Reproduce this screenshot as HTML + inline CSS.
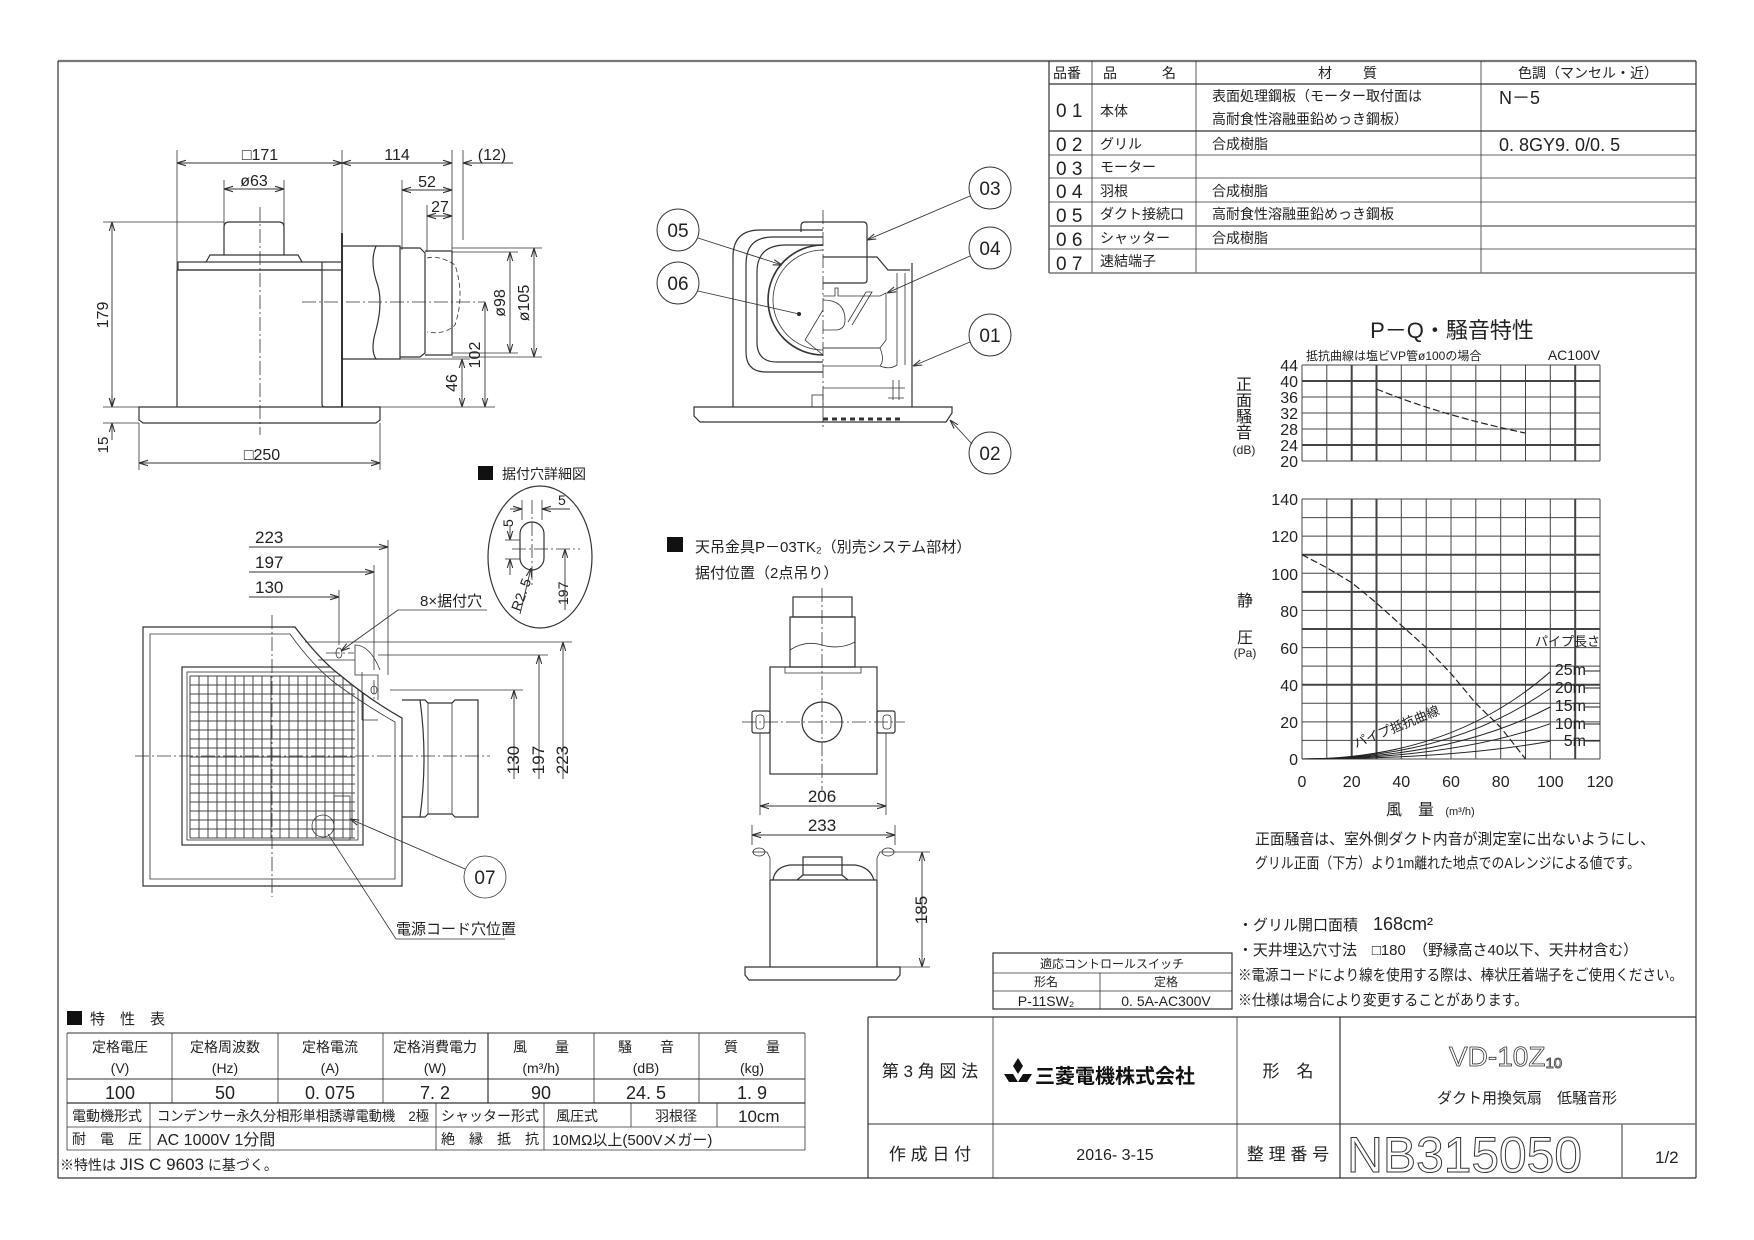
<!DOCTYPE html>
<html><head><meta charset="utf-8"><style>
html,body{margin:0;padding:0;background:#fff}
svg{display:block}
text{font-family:"Liberation Sans","Noto Sans CJK JP",sans-serif;fill:#222}
.l{stroke:#333;stroke-width:1.2;fill:none}
.t{stroke:#333;stroke-width:0.8;fill:none}
.g{stroke:#777;stroke-width:2.2;fill:none}
.c{stroke:#333;stroke-width:0.8;fill:none;stroke-dasharray:14 3 2 3}
.d{stroke:#333;stroke-width:0.9;fill:none;marker-start:url(#a);marker-end:url(#a)}
.d1{stroke:#333;stroke-width:0.9;fill:none;marker-end:url(#a)}
.grid{stroke:#444;stroke-width:1;fill:none}
.gb{stroke:#444;stroke-width:2;fill:none}
</style></head><body>
<svg width="1754" height="1240" viewBox="0 0 1754 1240" xmlns="http://www.w3.org/2000/svg">
<defs>
<marker id="a" viewBox="0 0 10 10" refX="10" refY="5" markerWidth="9" markerHeight="9" markerUnits="userSpaceOnUse" orient="auto-start-reverse"><path d="M0,2 L10,5 L0,8" fill="none" stroke="#333" stroke-width="1.2"/></marker>
</defs>
<line x1="58" y1="61" x2="1696" y2="61" class="g"/>
<line x1="58" y1="61" x2="58" y2="1178" class="l"/>
<line x1="1696" y1="61" x2="1696" y2="1178" class="l"/>
<line x1="58" y1="1178" x2="1696" y2="1178" class="l"/>

<g>
<line x1="1049" y1="61" x2="1049" y2="273" class="l"/>
<line x1="1092" y1="61" x2="1092" y2="273" class="t"/>
<line x1="1196" y1="61" x2="1196" y2="273" class="t"/>
<line x1="1481" y1="61" x2="1481" y2="273" class="t"/>
<line x1="1049" y1="84" x2="1696" y2="84" class="l"/>
<line x1="1049" y1="131" x2="1696" y2="131" class="l"/>
<line x1="1049" y1="155" x2="1696" y2="155" class="t"/>
<line x1="1049" y1="178" x2="1696" y2="178" class="t"/>
<line x1="1049" y1="202" x2="1696" y2="202" class="t"/>
<line x1="1049" y1="226" x2="1696" y2="226" class="g" style="stroke-width:1.5"/>
<line x1="1049" y1="249" x2="1696" y2="249" class="t"/>
<line x1="1049" y1="273" x2="1696" y2="273" class="g" style="stroke-width:1.5"/>
<g font-size="14">
<text x="1053" y="78">品番</text><text x="1103" y="78">品</text><text x="1162" y="78">名</text>
<text x="1318" y="78">材</text><text x="1363" y="78">質</text>
<text x="1518" y="78">色調（マンセル・近）</text>
<text x="1056" y="117" font-size="19">0 1</text><text x="1100" y="116">本体</text>
<text x="1212" y="101">表面処理鋼板（モーター取付面は</text><text x="1212" y="124">高耐食性溶融亜鉛めっき鋼板）</text>
<text x="1499" y="104" font-size="18">N－5</text>
<text x="1056" y="151" font-size="19">0 2</text><text x="1100" y="149">グリル</text><text x="1212" y="149">合成樹脂</text>
<text x="1499" y="151" font-size="18">0. 8GY9. 0/0. 5</text>
<text x="1056" y="175" font-size="19">0 3</text><text x="1100" y="172">モーター</text>
<text x="1056" y="198" font-size="19">0 4</text><text x="1100" y="196">羽根</text><text x="1212" y="196">合成樹脂</text>
<text x="1056" y="222" font-size="19">0 5</text><text x="1100" y="219">ダクト接続口</text><text x="1212" y="219">高耐食性溶融亜鉛めっき鋼板</text>
<text x="1056" y="246" font-size="19">0 6</text><text x="1100" y="243">シャッター</text><text x="1212" y="243">合成樹脂</text>
<text x="1056" y="270" font-size="19">0 7</text><text x="1100" y="266">速結端子</text>
</g></g>

<g>
<line x1="177" y1="150" x2="177" y2="407" class="t"/>
<line x1="342" y1="150" x2="342" y2="233" class="t"/>
<line x1="177" y1="163" x2="342" y2="163" class="d"/>
<line x1="342" y1="163" x2="452" y2="163" class="d"/>
<line x1="452" y1="150" x2="452" y2="250" class="t"/>
<line x1="463" y1="150" x2="463" y2="240" class="t"/>
<line x1="513" y1="163" x2="463" y2="163" class="d1"/>
<text x="260" y="160" font-size="16" text-anchor="middle">□171</text>
<text x="397" y="160" font-size="16" text-anchor="middle">114</text>
<text x="492" y="160" font-size="16" text-anchor="middle">(12)</text>
<line x1="224" y1="180" x2="224" y2="255" class="t"/>
<line x1="284" y1="180" x2="284" y2="255" class="t"/>
<line x1="224" y1="189" x2="284" y2="189" class="d"/>
<text x="254" y="186" font-size="16" text-anchor="middle">ø63</text>
<line x1="402" y1="180" x2="402" y2="250" class="t"/>
<line x1="427" y1="205" x2="427" y2="252" class="t"/>
<line x1="402" y1="190" x2="452" y2="190" class="d"/>
<line x1="427" y1="216" x2="452" y2="216" class="d"/>
<text x="427" y="187" font-size="16" text-anchor="middle">52</text>
<text x="440" y="212" font-size="16" text-anchor="middle">27</text>
<path d="M224,255 V227 Q224,222 229,222 H279 Q284,222 284,227 V255" class="l"/>
<path d="M206,262 L210,255 H298 L302,262" class="l"/>
<rect x="178" y="262" width="164" height="8" class="l"/>
<path d="M177,270 V407 M322,270 H177 M322,262 V404 Q322,407 325,407 H342" class="l"/>
<line x1="342" y1="233" x2="342" y2="407" class="l" style="stroke-width:2"/>
<path d="M342,246 H376 Q370,260 376,280 Q384,300 376,330 Q370,350 376,359 H342" class="l"/>
<path d="M376,246 H400 V359 H376" class="l"/>
<path d="M400,248 H420 L425,253 V353 L420,357 H400" class="l"/>
<path d="M425,251 H452 V355 H425" class="l"/>
<path d="M427,258 Q440,255 455,265 Q465,295 455,325 Q445,335 427,332" class="t" stroke-dasharray="5 3"/>
<line x1="452" y1="248" x2="542" y2="248" class="t"/>
<line x1="452" y1="357" x2="542" y2="357" class="t"/>
<line x1="452" y1="252" x2="518" y2="252" class="t"/>
<line x1="452" y1="353" x2="518" y2="353" class="t"/>
<line x1="510" y1="252" x2="510" y2="353" class="d"/>
<line x1="534" y1="248" x2="534" y2="357" class="d"/>
<text transform="translate(505,303) rotate(-90)" font-size="16" text-anchor="middle">ø98</text>
<text transform="translate(529,303) rotate(-90)" font-size="16" text-anchor="middle">ø105</text>
<line x1="302" y1="302" x2="485" y2="302" class="c"/>
<line x1="260" y1="207" x2="260" y2="435" class="c"/>
<line x1="400" y1="359" x2="470" y2="359" class="t"/>
<line x1="342" y1="407" x2="495" y2="407" class="t"/>
<line x1="485" y1="302" x2="485" y2="407" class="d"/>
<line x1="462" y1="359" x2="462" y2="407" class="d"/>
<text transform="translate(480,355) rotate(-90)" font-size="16" text-anchor="middle">102</text>
<text transform="translate(457,383) rotate(-90)" font-size="16" text-anchor="middle">46</text>
<line x1="103" y1="222" x2="224" y2="222" class="t"/>
<line x1="112" y1="222" x2="112" y2="407" class="d"/>
<text transform="translate(108,315) rotate(-90)" font-size="16" text-anchor="middle">179</text>
<path d="M139,407 H380 V420 L376,423 H143 L139,420 Z" class="l"/>
<line x1="103" y1="423" x2="139" y2="423" class="t"/>
<line x1="103" y1="407" x2="139" y2="407" class="t"/>
<line x1="112" y1="395" x2="112" y2="407" class="d1"/>
<line x1="112" y1="440" x2="112" y2="423" class="d1"/>
<text transform="translate(108,445) rotate(-90)" font-size="15" text-anchor="middle">15</text>
<line x1="139" y1="423" x2="139" y2="470" class="t"/>
<line x1="380" y1="423" x2="380" y2="470" class="t"/>
<line x1="139" y1="463" x2="380" y2="463" class="d"/>
<text x="262" y="460" font-size="16" text-anchor="middle">□250</text>
</g>

<g>
<path d="M694,407 H952 V413 L946,422 H700 L694,416 Z" class="l"/>
<path d="M823,230 H760 Q733,230 733,257 V407" class="l"/>
<path d="M823,237 H773 Q746,237 746,264 V352 Q746,372 766,372 H823" class="l"/>
<path d="M823,245 H786 Q757,245 757,272 V342 Q757,362 777,362 H823" class="l"/>
<path d="M823,245 A55,55 0 0 0 823,355" class="l" style="stroke-width:1.6"/>
<path d="M823,250 A50,50 0 0 0 823,350" class="t"/>
<path d="M823,355 L805,340 L823,310" class="t"/>
<circle cx="799" cy="314" r="2" fill="#222"/>
<path d="M801,232 V226 Q801,222 805,222 H863 Q867,222 867,226 V280 Q867,283 864,283 H823" class="l"/>
<path d="M823,257 H877 L888,270 H910" class="l"/>
<line x1="912" y1="263" x2="912" y2="407" class="l"/>
<line x1="905" y1="273" x2="905" y2="365" class="t"/>
<path d="M823,296 H835 V288 H838 V296 H880 L886,293 V340 L880,348 H823" class="t"/>
<path d="M848,322 L866,292 L872,292 L852,325" class="t"/>
<path d="M823,300 Q845,300 845,320 Q845,330 835,330 H823" class="t"/>
<path d="M823,348 H880 Q885,360 880,366 H823" class="t"/>
<path d="M880,366 Q890,370 897,365 V273" class="t"/>
<line x1="823" y1="388" x2="905" y2="388" class="t"/>
<rect x="812" y="395" width="11" height="12" class="t"/>
<path d="M893,380 V400 M899,380 V400 M888,398 H904" class="t"/>
<line x1="823" y1="419" x2="900" y2="419" class="l" stroke-dasharray="5 4" style="stroke-width:3"/>
<line x1="823" y1="210" x2="823" y2="428" class="c"/>
<g fill="none" stroke="#333" stroke-width="1">
<circle cx="990" cy="188" r="21"/><circle cx="990" cy="248" r="21"/><circle cx="990" cy="335" r="21"/><circle cx="990" cy="453" r="21"/>
<circle cx="678" cy="230" r="21"/><circle cx="678" cy="283" r="21"/>
</g>
<g font-size="19" text-anchor="middle"><text x="990" y="195">03</text><text x="990" y="255">04</text><text x="990" y="342">01</text><text x="990" y="460">02</text><text x="678" y="237">05</text><text x="678" y="290">06</text></g>
<line x1="970" y1="196" x2="867" y2="240" class="d1"/>
<line x1="970" y1="256" x2="887" y2="293" class="d1"/>
<line x1="970" y1="342" x2="913" y2="366" class="d1"/>
<line x1="972" y1="444" x2="950" y2="420" class="d1"/>
<line x1="698" y1="238" x2="782" y2="265" class="d1"/>
<line x1="698" y1="291" x2="799" y2="314" class="t"/>
</g>

<g>
<path d="M143,627 H295 Q320,660 340,675 Q370,700 402,718 V886 H143 Z" class="l"/>
<path d="M150,634 H290 Q312,665 335,683 Q365,705 395,722 V879 H150 Z" class="t"/>
<rect x="182" y="667" width="181" height="178" class="l"/>
<rect x="187" y="672" width="171" height="168" class="t"/>
<g stroke="#444" stroke-width="1">
<path d="M190,676 H355 M190,685 H355 M190,694 H355 M190,703 H355 M190,712 H355 M190,721 H355 M190,730 H355 M190,739 H355 M190,748 H355 M190,757 H355 M190,766 H355 M190,775 H355 M190,784 H355 M190,793 H355 M190,802 H355 M190,811 H355 M190,820 H355 M190,829 H355 M190,838 H355"/>
<path d="M190,676 V838 M199,676 V838 M208,676 V838 M217,676 V838 M226,676 V838 M235,676 V838 M244,676 V838 M253,676 V838 M262,676 V838 M271,676 V838 M280,676 V838 M289,676 V838 M298,676 V838 M307,676 V838 M316,676 V838 M325,676 V838 M334,676 V838 M343,676 V838 M352,676 V838"/>
</g>
<path d="M295,627 Q320,660 340,675 Q370,700 402,718 V627 Z" fill="#fff"/>
<path d="M295,627 Q320,660 340,675 Q370,700 402,718" class="l"/>
<path d="M318,660 H355 V675 H378 V700 M355,660 V645 Q370,645 380,670" class="t"/>
<path d="M362,672 V720 M362,720 H378" class="t"/>
<ellipse cx="339" cy="653" rx="3" ry="5" class="t"/>
<ellipse cx="374" cy="690" rx="3" ry="4" class="t"/>
<path d="M402,700 H420 Q428,758 420,817 H402" class="l"/>
<path d="M420,700 H425 L428,703 H452 L455,700 H478 V817 H455 L452,814 H428 L425,817 H420" class="l"/>
<line x1="428" y1="703" x2="428" y2="814" class="t"/><line x1="452" y1="703" x2="452" y2="814" class="t"/>
<circle cx="323" cy="826" r="11" class="t"/>
<rect x="334" y="796" width="16" height="44" class="t"/>
<line x1="272" y1="615" x2="272" y2="897" class="c"/>
<line x1="135" y1="756" x2="490" y2="756" class="c"/>
<line x1="326" y1="653" x2="354" y2="653" class="c"/>
<line x1="374" y1="680" x2="374" y2="700" class="c"/>
<line x1="249" y1="547" x2="388" y2="547" class="d1"/>
<line x1="249" y1="572" x2="374" y2="572" class="d1"/>
<line x1="249" y1="597" x2="339" y2="597" class="d1"/>
<line x1="388" y1="540" x2="388" y2="675" class="t"/>
<line x1="374" y1="565" x2="374" y2="670" class="t"/>
<line x1="339" y1="590" x2="339" y2="645" class="t"/>
<g font-size="17"><text x="255" y="543">223</text><text x="255" y="568">197</text><text x="255" y="593">130</text></g>
<line x1="305" y1="642" x2="572" y2="642" class="t"/>
<line x1="378" y1="655" x2="548" y2="655" class="t"/>
<line x1="390" y1="690" x2="523" y2="690" class="t"/>
<line x1="563" y1="779" x2="563" y2="642" class="d1"/>
<line x1="539" y1="779" x2="539" y2="655" class="d1"/>
<line x1="514" y1="779" x2="514" y2="690" class="d1"/>
<g font-size="17"><text transform="translate(519,760) rotate(-90)" text-anchor="middle">130</text><text transform="translate(544,760) rotate(-90)" text-anchor="middle">197</text><text transform="translate(568,760) rotate(-90)" text-anchor="middle">223</text></g>
<text x="420" y="606" font-size="15">8×据付穴</text>
<line x1="398" y1="610" x2="487" y2="610" class="t"/>
<line x1="398" y1="610" x2="341" y2="651" class="d1"/>
<circle cx="485" cy="877" r="21" class="t"/>
<text x="485" y="884" font-size="19" text-anchor="middle">07</text>
<line x1="465" y1="869" x2="350" y2="819" class="d1"/>
<text x="396" y="934" font-size="15">電源コード穴位置</text>
<line x1="396" y1="939" x2="505" y2="939" class="t"/>
<line x1="396" y1="939" x2="328" y2="834" class="t"/>
<rect x="478" y="466" width="15" height="14" fill="#111"/>
<text x="502" y="479" font-size="14">据付穴詳細図</text>
<ellipse cx="540" cy="557" rx="52" ry="71" class="l"/>
<rect x="520" y="522" width="24" height="48" rx="12" class="l"/>
<line x1="512" y1="549" x2="580" y2="549" class="c"/>
<line x1="532" y1="500" x2="532" y2="585" class="c"/>
<line x1="522" y1="500" x2="522" y2="520" class="t"/><line x1="542" y1="500" x2="542" y2="520" class="t"/>
<line x1="510" y1="509" x2="522" y2="509" class="d1"/><line x1="570" y1="509" x2="542" y2="509" class="d1"/>
<text x="558" y="505" font-size="14">5</text>
<line x1="505" y1="540" x2="520" y2="540" class="t"/><line x1="505" y1="559" x2="520" y2="559" class="t"/>
<line x1="510" y1="525" x2="510" y2="540" class="d1"/><line x1="510" y1="575" x2="510" y2="559" class="d1"/>
<text transform="translate(513,527) rotate(-90)" font-size="14">5</text>
<line x1="565" y1="610" x2="565" y2="549" class="d1"/>
<text transform="translate(568,605) rotate(-90)" font-size="14">197</text>
<line x1="520" y1="614" x2="531" y2="568" class="d1"/>
<text transform="translate(520,612) rotate(-70)" font-size="14">R2. 5</text>
</g>

<g>
<rect x="667" y="537" width="16" height="15" fill="#111"/>
<text x="695" y="552" font-size="15">天吊金具P－03TK₂（別売システム部材）</text>
<text x="695" y="578" font-size="15">据付位置（2点吊り）</text>
<line x1="822" y1="588" x2="822" y2="790" class="c"/>
<line x1="742" y1="722" x2="905" y2="722" class="c"/>
<rect x="793" y="597" width="59" height="20" class="l"/>
<path d="M790,617 H855 V667 H790 Z" class="l"/>
<path d="M790,650 Q805,640 822,645 Q840,650 855,642" class="t"/>
<rect x="770" y="667" width="107" height="107" class="l"/>
<path d="M785,667 V673 H861 V667" class="t"/>
<circle cx="822" cy="722" r="20" class="l"/>
<rect x="752" y="711" width="18" height="22" rx="2" class="l"/><rect x="756" y="715" width="8" height="14" rx="3" class="t"/>
<rect x="877" y="711" width="18" height="22" rx="2" class="l"/><rect x="883" y="715" width="8" height="14" rx="3" class="t"/>
<line x1="760" y1="733" x2="760" y2="815" class="t"/><line x1="886" y1="733" x2="886" y2="815" class="t"/>
<line x1="760" y1="806" x2="886" y2="806" class="d"/>
<text x="822" y="802" font-size="17" text-anchor="middle">206</text>
<line x1="752" y1="825" x2="752" y2="845" class="t"/><line x1="895" y1="825" x2="895" y2="845" class="t"/>
<line x1="752" y1="835" x2="895" y2="835" class="d"/>
<text x="822" y="831" font-size="17" text-anchor="middle">233</text>
<path d="M770,880 V967 M877,880 V967 M770,880 H877 M773,880 Q775,867 790,865 H855 Q870,867 874,880" class="l"/>
<path d="M797,880 L803,875 H842 L848,880 M803,875 V857 H842 V875" class="l"/>
<path d="M752,852 H767 L770,858 V880 M895,852 H880 L877,858 V880" class="t"/>
<ellipse cx="759" cy="852" rx="6" ry="4" class="t"/><ellipse cx="888" cy="852" rx="6" ry="4" class="t"/>
<path d="M745,967 H900 V975 L896,980 H749 L745,975 Z" class="l"/>
<line x1="895" y1="852" x2="930" y2="852" class="t"/><line x1="900" y1="967" x2="930" y2="967" class="t"/>
<line x1="922" y1="852" x2="922" y2="967" class="d"/>
<text transform="translate(927,910) rotate(-90)" font-size="17" text-anchor="middle">185</text>
</g>

<g>
<text x="1452" y="338" font-size="22" text-anchor="middle">P－Q・騒音特性</text>
<text x="1306" y="360" font-size="12">抵抗曲線は塩ビVP管ø100の場合</text>
<text x="1600" y="360" font-size="14" text-anchor="end">AC100V</text>
<g class="grid">
<path d="M1302,365 H1600 M1302,381 H1600 M1302,397 H1600 M1302,413 H1600 M1302,429 H1600 M1302,445 H1600 M1302,461 H1600"/>
<path d="M1302,365 V461 M1326.8,365 V461 M1351.7,365 V461 M1376.5,365 V461 M1401.3,365 V461 M1426.2,365 V461 M1451,365 V461 M1475.8,365 V461 M1500.7,365 V461 M1525.5,365 V461 M1550.3,365 V461 M1575.2,365 V461 M1600,365 V461"/>
<path d="M1302,499 V759 M1326.8,499 V759 M1351.7,499 V759 M1376.5,499 V759 M1401.3,499 V759 M1426.2,499 V759 M1451,499 V759 M1475.8,499 V759 M1500.7,499 V759 M1525.5,499 V759 M1550.3,499 V759 M1575.2,499 V759 M1600,499 V759"/>
<path d="M1302,499 H1600 M1302,517.6 H1600 M1302,536.1 H1600 M1302,554.7 H1600 M1302,573.3 H1600 M1302,591.9 H1600 M1302,610.4 H1600 M1302,629 H1600 M1302,647.6 H1600 M1302,666.1 H1600 M1302,684.7 H1600 M1302,703.3 H1600 M1302,721.9 H1600 M1302,740.4 H1600 M1302,759 H1600"/>
</g>
<g class="gb">
<path d="M1351.7,365 V461 M1376.5,365 V461 M1575.2,365 V461 M1302,381 H1600 M1302,445 H1600"/>
<path d="M1351.7,499 V759 M1376.5,499 V759 M1575.2,499 V759 M1302,554.7 H1600 M1302,591.9 H1600 M1302,629 H1600 M1302,684.7 H1600"/>
</g>
<path d="M1376.5,389 Q1440,415 1525,433" stroke="#222" stroke-width="1.2" fill="none" stroke-dasharray="7 3"/>
<path d="M1302,554.7 L1326.8,567.7 L1351.7,582.6 L1376.5,603 L1401.3,625.3 L1426.2,647.6 L1451,673.6 L1475.8,703.3 L1500.7,727.4 L1525.5,759" stroke="#222" stroke-width="1.2" fill="none" stroke-dasharray="7 3"/>
<g stroke="#222" stroke-width="1" fill="none">
<path d="M1302,759 Q1451,759 1550.3,671.7"/>
<path d="M1302,759 Q1451,759 1550.3,688.4"/>
<path d="M1302,759 Q1451,759 1550.3,707"/>
<path d="M1302,759 Q1451,759 1550.3,723.7"/>
<path d="M1302,759 Q1451,759 1550.3,741.3"/>
<path d="M1585,671 H1600 M1585,688 H1600 M1585,707 H1600 M1585,724 H1600 M1585,741 H1600"/>
</g>
<g font-size="16" text-anchor="end">
<text x="1586" y="675">25m</text><text x="1586" y="693">20m</text><text x="1586" y="711">15m</text><text x="1586" y="729">10m</text><text x="1586" y="746">5m</text>
</g>
<text x="1600" y="646" font-size="13" text-anchor="end">パイプ長さ</text>
<text transform="translate(1356,748) rotate(-22)" font-size="13">パイプ抵抗曲線</text>
<g font-size="16" text-anchor="end">
<text x="1298" y="371">44</text><text x="1298" y="387">40</text><text x="1298" y="403">36</text><text x="1298" y="419">32</text><text x="1298" y="435">28</text><text x="1298" y="451">24</text><text x="1298" y="467">20</text>
<text x="1298" y="505">140</text><text x="1298" y="542">120</text><text x="1298" y="580">100</text><text x="1298" y="617">80</text><text x="1298" y="654">60</text><text x="1298" y="691">40</text><text x="1298" y="728">20</text><text x="1298" y="765">0</text>
</g>
<g font-size="16" text-anchor="middle">
<text x="1302" y="787">0</text><text x="1351.7" y="787">20</text><text x="1401.3" y="787">40</text><text x="1451" y="787">60</text><text x="1500.7" y="787">80</text><text x="1550.3" y="787">100</text><text x="1600" y="787">120</text>
</g>
<g font-size="16" text-anchor="middle"><text x="1244" y="390">正</text><text x="1244" y="406">面</text><text x="1244" y="422">騒</text><text x="1244" y="438">音</text></g>
<text x="1244" y="454" font-size="12" text-anchor="middle">(dB)</text>
<text x="1245" y="606" font-size="16" text-anchor="middle">静</text>
<text x="1245" y="643" font-size="16" text-anchor="middle">圧</text>
<text x="1245" y="657" font-size="12" text-anchor="middle">(Pa)</text>
<text x="1410" y="815" font-size="16" text-anchor="middle">風　量</text>
<text x="1460" y="815" font-size="11" text-anchor="middle">(m³/h)</text>
</g>

<g font-size="15">
<text x="1255" y="844" textLength="400" lengthAdjust="spacingAndGlyphs">正面騒音は、室外側ダクト内音が測定室に出ないようにし、</text>
<text x="1255" y="868" textLength="385" lengthAdjust="spacingAndGlyphs">グリル正面（下方）より1m離れた地点でのAレンジによる値です。</text>
<text x="1238" y="930">・グリル開口面積　<tspan font-size="18">168cm²</tspan></text>
<text x="1238" y="955" textLength="400" lengthAdjust="spacingAndGlyphs">・天井埋込穴寸法　□180　（野縁高さ40以下、天井材含む）</text>
<text x="1238" y="980" textLength="445" lengthAdjust="spacingAndGlyphs">※電源コードにより線を使用する際は、棒状圧着端子をご使用ください。</text>
<text x="1238" y="1005" textLength="290" lengthAdjust="spacingAndGlyphs">※仕様は場合により変更することがあります。</text>
</g>
<g>
<rect x="993" y="953" width="239" height="56" class="l"/>
<line x1="993" y1="973" x2="1232" y2="973" class="t"/>
<line x1="993" y1="991" x2="1232" y2="991" class="t"/>
<line x1="1100" y1="973" x2="1100" y2="1009" class="t"/>
<text x="1112" y="968" font-size="12" text-anchor="middle">適応コントロールスイッチ</text>
<text x="1046" y="986" font-size="12" text-anchor="middle">形名</text>
<text x="1166" y="986" font-size="12" text-anchor="middle">定格</text>
<text x="1046" y="1006" font-size="14" text-anchor="middle">P-11SW₂</text>
<text x="1166" y="1006" font-size="14" text-anchor="middle">0. 5A-AC300V</text>
</g>
<g>
<line x1="868" y1="1017" x2="1696" y2="1017" class="l"/>
<line x1="868" y1="1124" x2="1696" y2="1124" class="g" style="stroke-width:1.5"/>
<line x1="868" y1="1017" x2="868" y2="1178" class="l"/>
<line x1="993" y1="1017" x2="993" y2="1178" class="t"/>
<line x1="1237" y1="1017" x2="1237" y2="1178" class="t"/>
<line x1="1340" y1="1017" x2="1340" y2="1178" class="l"/>
<line x1="1622" y1="1124" x2="1622" y2="1178" class="g" style="stroke-width:1.5"/>
<text x="930" y="1077" font-size="17" text-anchor="middle">第 3 角 図 法</text>
<g fill="#111"><path d="M1018,1058 L1023,1066 L1018,1074 L1013,1066 Z"/><path d="M1013,1074 L1018,1082 L1009,1082 L1004,1074 Z"/><path d="M1023,1074 L1032,1074 L1027,1082 L1018,1082 Z"/></g>
<text x="1035" y="1083" font-size="20" font-weight="bold" style="fill:#111">三菱電機株式会社</text>
<text x="1288" y="1077" font-size="17" text-anchor="middle">形　名</text>
<text x="1449" y="1066" font-size="28" style="fill:#fff;stroke:#333;stroke-width:0.8">VD-10Z<tspan font-size="15" dy="2">10</tspan></text>
<text x="1437" y="1103" font-size="15">ダクト用換気扇　低騒音形</text>
<text x="930" y="1160" font-size="17" text-anchor="middle">作 成 日 付</text>
<text x="1115" y="1160" font-size="16" text-anchor="middle">2016-  3-15</text>
<text x="1288" y="1160" font-size="17" text-anchor="middle">整 理 番 号</text>
<text x="1347" y="1172" font-size="50" style="fill:#fff;stroke:#333;stroke-width:1" textLength="235" lengthAdjust="spacingAndGlyphs">NB315050</text>
<text x="1655" y="1163" font-size="17">1/2</text>
</g>

<g>
<rect x="67" y="1011" width="15" height="14" fill="#111"/>
<text x="90" y="1024" font-size="15">特　性　表</text>
<line x1="67" y1="1033" x2="805" y2="1033" class="g" style="stroke-width:1.5"/>
<line x1="67" y1="1079" x2="805" y2="1079" class="g" style="stroke-width:1.5"/>
<line x1="67" y1="1103" x2="805" y2="1103" class="l"/>
<line x1="67" y1="1127" x2="805" y2="1127" class="t"/>
<line x1="67" y1="1150" x2="805" y2="1150" class="t"/>
<line x1="67" y1="1033" x2="67" y2="1150" class="t"/>
<line x1="805" y1="1033" x2="805" y2="1150" class="t"/>
<path d="M172,1033 V1103 M278,1033 V1103 M383,1033 V1103 M594,1033 V1103 M699,1033 V1103" class="t"/>
<line x1="488" y1="1033" x2="488" y2="1103" class="l"/>
<path d="M150,1103 V1150 M436,1103 V1150 M544,1103 V1150 M631,1103 V1127 M717,1103 V1127" class="t"/>
<g font-size="14" text-anchor="middle">
<text x="120" y="1052">定格電圧</text><text x="225" y="1052">定格周波数</text><text x="330" y="1052">定格電流</text><text x="435" y="1052">定格消費電力</text><text x="541" y="1052">風　　量</text><text x="646" y="1052">騒　　音</text><text x="752" y="1052">質　　量</text>
<text x="120" y="1073">(V)</text><text x="225" y="1073">(Hz)</text><text x="330" y="1073">(A)</text><text x="435" y="1073">(W)</text><text x="541" y="1073">(m³/h)</text><text x="646" y="1073">(dB)</text><text x="752" y="1073">(kg)</text>
</g>
<g font-size="18" text-anchor="middle">
<text x="120" y="1099">100</text><text x="225" y="1099">50</text><text x="330" y="1099">0. 075</text><text x="435" y="1099">7. 2</text><text x="541" y="1099">90</text><text x="646" y="1099">24. 5</text><text x="752" y="1099">1. 9</text>
</g>
<g font-size="14">
<text x="72" y="1121">電動機形式</text><text x="157" y="1121" textLength="272" lengthAdjust="spacingAndGlyphs">コンデンサー永久分相形単相誘導電動機　2極</text><text x="441" y="1121">シャッター形式</text><text x="556" y="1121">風圧式</text><text x="655" y="1121">羽根径</text><text x="738" y="1122" font-size="17">10cm</text>
<text x="72" y="1144">耐　電　圧</text><text x="157" y="1145" font-size="16">AC 1000V 1分間</text><text x="441" y="1144">絶　縁　抵　抗</text><text x="552" y="1145" font-size="15">10MΩ以上(500Vメガー)</text>
<text x="60" y="1170">※特性は <tspan font-size="17">JIS C 9603</tspan> に基づく。</text>
</g>
</g>
</svg>
</body></html>
